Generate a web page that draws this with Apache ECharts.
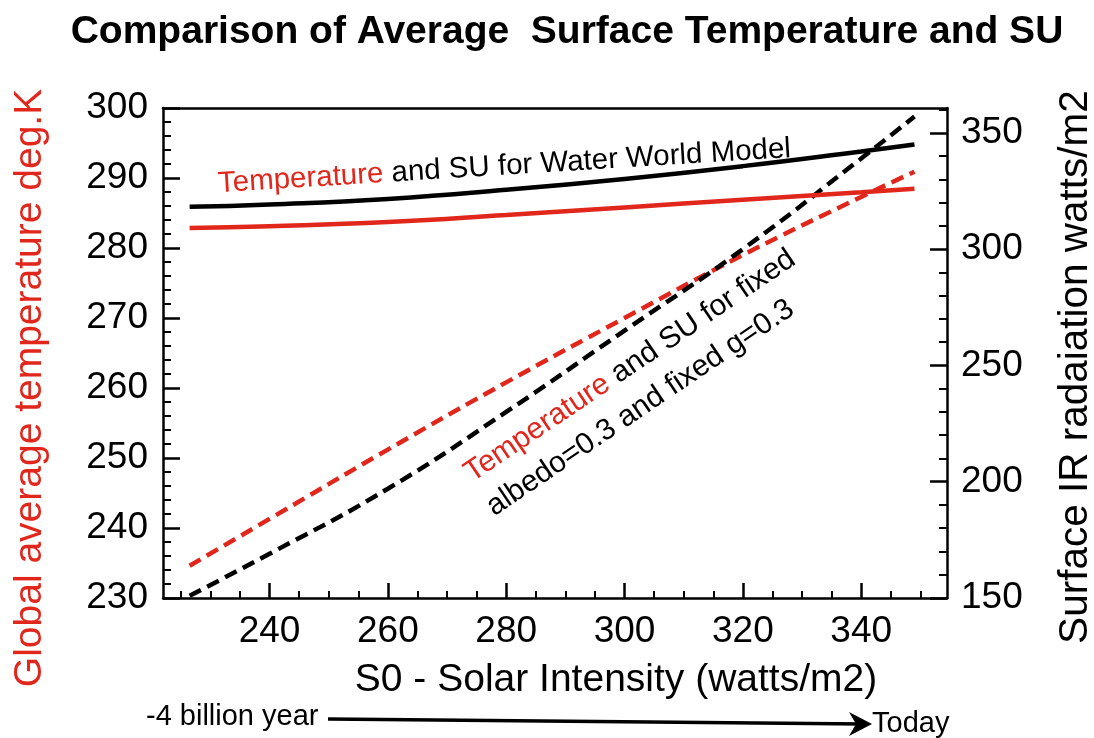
<!DOCTYPE html>
<html>
<head>
<meta charset="utf-8">
<script src="https://cdn.jsdelivr.net/npm/echarts@6/dist/echarts.min.js"></script>
<style>
html,body{margin:0;padding:0;background:#fff;}
#chart{width:1094px;height:738px;}
</style>
</head>
<body>
<div id="chart"></div>
<script>
// ---- data ----
const s0 = [226.5, 240, 260, 280, 300, 320, 340, 349];
const tempWater = [282.85, 283.1, 283.7, 284.7, 285.8, 286.9, 287.95, 288.45];
const suWater   = [318.2, 319.2, 321.6, 325.5, 330.2, 335.7, 342.0, 345.0];
const tempFixed = [234.6, 241.3, 251.2, 260.8, 270.0, 279.0, 287.3, 290.9];
const suFixed   = [151, 169, 197, 230, 265, 300, 339, 357];

const xMajorTicks = [240, 260, 280, 300, 320, 340];
const xMinorTicks = [225, 230, 235, 245, 250, 255, 265, 270, 275, 285, 290, 295, 305, 310, 315, 325, 330, 335, 345, 350];
const rightMajorTicks = [150, 200, 250, 300, 350];
const rightMinorTicks = [160, 170, 180, 190, 210, 220, 230, 240, 260, 270, 280, 290, 310, 320, 330, 340, 360];

const RED = '#e1261c';
const FONT = '"Liberation Sans", Arial, Helvetica, sans-serif';

const pairs = (xs, ys) => xs.map((x, i) => [x, ys[i]]);

const chart = echarts.init(document.getElementById('chart'), null, {renderer: 'canvas'});

const xMin = 222, xMax = 354.5;
const rMin = 150, rMax = 360.7;
const axisLineStyle = {color: '#000', width: 2.5};

chart.setOption({
  animation: false,
  backgroundColor: '#fff',
  grid: {left: 163, right: 147, top: 108, bottom: 140, containLabel: false},
  xAxis: [
    {type: 'value', min: xMin, max: xMax, position: 'bottom',
     axisLine: {show: true, lineStyle: axisLineStyle},
     axisTick: {show: true, inside: true, length: 15, customValues: xMajorTicks, lineStyle: {color: '#000', width: 2.5}},
     axisLabel: {customValues: xMajorTicks, fontSize: 37, color: '#000', margin: 15, fontFamily: FONT},
     splitLine: {show: false}},
    {type: 'value', min: xMin, max: xMax, position: 'bottom',
     axisLine: {show: false},
     axisTick: {show: true, inside: true, length: 7, customValues: xMinorTicks, lineStyle: {color: '#000', width: 2}},
     axisLabel: {show: false}, splitLine: {show: false}},
    {type: 'value', min: xMin, max: xMax, position: 'top',
     axisLine: {show: true, lineStyle: axisLineStyle},
     axisTick: {show: false}, axisLabel: {show: false}, splitLine: {show: false}}
  ],
  yAxis: [
    {type: 'value', min: 230, max: 300, interval: 10, position: 'left',
     axisLine: {show: true, lineStyle: axisLineStyle},
     axisTick: {show: true, inside: true, length: 17, lineStyle: {color: '#000', width: 2.5}},
     minorTick: {show: true, splitNumber: 5, length: 8, lineStyle: {color: '#000', width: 2}},
     axisLabel: {fontSize: 37, color: '#000', margin: 15, fontFamily: FONT},
     splitLine: {show: false}},
    {type: 'value', min: rMin, max: rMax, position: 'right',
     axisLine: {show: true, lineStyle: axisLineStyle},
     axisTick: {show: true, inside: true, length: 17, customValues: rightMajorTicks, lineStyle: {color: '#000', width: 2.5}},
     axisLabel: {customValues: rightMajorTicks, fontSize: 37, color: '#000', margin: 14, fontFamily: FONT},
     splitLine: {show: false}},
    {type: 'value', min: rMin, max: rMax, position: 'right',
     axisLine: {show: false},
     axisTick: {show: true, inside: true, length: 8, customValues: rightMinorTicks, lineStyle: {color: '#000', width: 2}},
     axisLabel: {show: false}, splitLine: {show: false}}
  ],
  series: [
    {name: 'T fixed', type: 'line', xAxisIndex: 0, yAxisIndex: 0, data: pairs(s0, tempFixed),
     smooth: true, symbol: 'none', lineStyle: {color: RED, width: 4.5, type: [13, 7]}},
    {name: 'SU fixed', type: 'line', xAxisIndex: 0, yAxisIndex: 1, data: pairs(s0, suFixed),
     smooth: true, symbol: 'none', lineStyle: {color: '#000', width: 4.5, type: [13, 7]}},
    {name: 'T water', type: 'line', xAxisIndex: 0, yAxisIndex: 0, data: pairs(s0, tempWater),
     smooth: true, symbol: 'none', lineStyle: {color: RED, width: 4.5}},
    {name: 'SU water', type: 'line', xAxisIndex: 0, yAxisIndex: 1, data: pairs(s0, suWater),
     smooth: true, symbol: 'none', lineStyle: {color: '#000', width: 4.5}}
  ],
  graphic: [
    {type: 'text', x: 567, y: 32, style: {text: 'Comparison of Average  Surface Temperature and SU',
      font: 'bold 39px "Liberation Sans", Arial, sans-serif',
      fill: '#000', align: 'center', verticalAlign: 'middle'}},
    {type: 'text', x: 30, y: 388, rotation: Math.PI / 2, style: {text: 'Global average temperature deg.K',
      font: '39px ' + FONT, fill: RED, align: 'center', verticalAlign: 'middle'}},
    {type: 'text', x: 1076, y: 367, rotation: Math.PI / 2, style: {text: 'Surface IR radaiation watts/m2',
      font: '40.5px ' + FONT, fill: '#000', align: 'center', verticalAlign: 'middle'}},
    {type: 'text', x: 616, y: 680, style: {text: 'S0 - Solar Intensity (watts/m2)',
      font: '39px ' + FONT, fill: '#000', align: 'center', verticalAlign: 'middle'}},
    {type: 'text', x: 219, y: 199, rotation: 3.5 * Math.PI / 180, style: {
      text: '{r|Temperature} and SU for Water World Model',
      font: '29.5px ' + FONT, fill: '#000', align: 'left', verticalAlign: 'bottom',
      rich: {r: {fill: RED, font: '29.5px ' + FONT}}}},
    {type: 'text', x: 476, y: 488, rotation: 34 * Math.PI / 180, style: {
      text: '{r|Temperature} and SU for fixed',
      font: '30px ' + FONT, fill: '#000', align: 'left', verticalAlign: 'bottom',
      rich: {r: {fill: RED, font: '30px ' + FONT}}}},
    {type: 'text', x: 498, y: 522, rotation: 34 * Math.PI / 180, style: {
      text: 'albedo=0.3 and fixed g=0.3',
      font: '30px ' + FONT, fill: '#000', align: 'left', verticalAlign: 'bottom'}},
    {type: 'text', x: 146, y: 717, style: {text: '-4 billion year',
      font: '29px ' + FONT, fill: '#000', align: 'left', verticalAlign: 'middle'}},
    {type: 'line', shape: {x1: 328, y1: 719, x2: 864, y2: 724}, style: {stroke: '#000', lineWidth: 3.5}},
    {type: 'polygon', shape: {points: [[872, 724], [849, 712], [856, 724], [849, 736]]}, style: {fill: '#000'}},
    {type: 'text', x: 872, y: 724, style: {text: 'Today',
      font: '29px ' + FONT, fill: '#000', align: 'left', verticalAlign: 'middle'}}
  ]
});
</script>
</body>
</html>
